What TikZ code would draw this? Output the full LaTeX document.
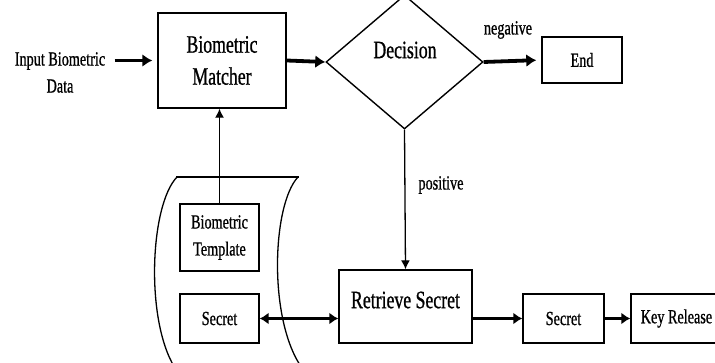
\documentclass[tikz,border=0pt]{standalone}
\usepackage{fontspec}
\newfontfamily\condserif{Liberation Serif}[FakeStretch=0.71,FakeBold=0.8]
\usetikzlibrary{shapes.geometric,arrows.meta}
\begin{document}
\begin{tikzpicture}[x=1pt,y=-1pt,
  bigtext/.style={font=\condserif\fontsize{25}{32}\selectfont},
  smalltext/.style={font=\condserif\fontsize{20}{27}\selectfont},
  box/.style={draw,line width=1.4pt,inner sep=0pt,align=center},
  heavy/.style={line width=3.8pt,-{Latex[length=10pt,width=13pt]}},
  medium/.style={line width=3.2pt,-{Latex[length=9pt,width=12pt]}},
  twoway/.style={line width=2.8pt,{Latex[length=9pt,width=12pt]}-{Latex[length=9pt,width=12pt]}},
  thin/.style={line width=1.3pt,-{Latex[length=9pt,width=9pt]}},
]
\useasboundingbox (0,0) rectangle (715,363);
\clip (0,0) rectangle (715,363);

% data store holding the template and the secret
\draw[line width=1.3pt] (177,177) .. controls (150,205) and (145,320) .. (175,368);
\draw[line width=1.3pt] (298,177) .. controls (272,205) and (268,320) .. (302,368);
\draw[line width=2.4pt] (176,177) -- (299,177);

% nodes
\node[smalltext,align=center] (input) at (60,72.5) {Input Biometric\\Data};
\node[box,bigtext,minimum width=128pt,minimum height=95pt] (mat) at (222,60.5) {Biometric\\Matcher};
\node[draw,line width=1.4pt,shape=diamond,inner sep=0pt,minimum width=157pt,minimum height=134pt] (dec) at (404.5,62) {};
\node[bigtext] (dectext) at (405,50) {Decision};
\node[box,smalltext,minimum width=80pt,minimum height=46pt] (end) at (582,60) {End};
\node[box,minimum width=133pt,minimum height=73pt,
      label={[bigtext,name=rettext,yshift=6.5pt]center:Retrieve Secret}] (ret) at (405.5,306.5) {};
\node[box,smalltext,minimum width=81pt,minimum height=49pt] (secR) at (563.5,318.5) {Secret};
\node[box,smalltext,minimum width=91pt,minimum height=49pt] (key) at (676.5,318.5) {Key Release};
\node[box,smalltext,minimum width=79pt,minimum height=67pt] (tmpl) at (219.5,237.5) {Biometric\\Template};
\node[box,smalltext,minimum width=79pt,minimum height=49pt] (secL) at (219.5,318.5) {Secret};

% edge labels
\node[smalltext] (neg) at (508,30) {negative};
\node[smalltext] (pos) at (441,185) {positive};

% connectors
\draw[heavy,shorten >=5pt] ([xshift=6pt]input.east |- mat.west) -- (mat.west);
\draw[heavy] (mat.east) -- (dec.west);
\draw[heavy,shorten >=5pt] (dec.east) -- (end.west);
\draw[thin] (dec.south) -- (ret.north);
\draw[medium] (ret.east |- secR.west) -- (secR.west);
\draw[medium] (secR.east) -- (key.west);
\draw[twoway] (secL.east) -- (ret.west |- secL.east);
\draw[thin] (tmpl.north) -- (tmpl.north |- mat.south);
\end{tikzpicture}
\end{document}
